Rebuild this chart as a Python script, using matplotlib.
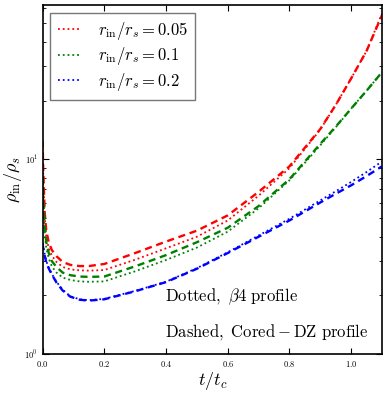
import numpy as np
import matplotlib
matplotlib.use("Agg")
import matplotlib.pyplot as plt
from matplotlib.ticker import NullFormatter

plt.rcParams['mathtext.fontset'] = 'cm'
plt.rcParams['font.family'] = 'serif'
plt.rcParams['font.serif'] = ['cmr10', 'DejaVu Serif']
plt.rcParams['axes.formatter.use_mathtext'] = True

# time grid (t / t_c)
t = [0.0, 0.002, 0.007, 0.012, 0.02, 0.03, 0.045, 0.065, 0.09, 0.12, 0.15, 0.2,
     0.3, 0.4, 0.5, 0.6, 0.7, 0.8, 0.9, 0.95, 1.0, 1.05, 1.1]

# beta4 profile (dotted)
red_dotted   = [12.0, 8.6, 5.0, 4.0, 3.5, 3.2, 2.97, 2.8, 2.72, 2.69, 2.68, 2.70,
                3.05, 3.49, 4.0, 4.85, 6.5, 9.0, 14.2, 19.0, 26.0, 36.0, 56.0]
green_dotted = [7.5, 6.0, 4.2, 3.5, 3.1, 2.82, 2.62, 2.47, 2.40, 2.36, 2.35, 2.36,
                2.66, 3.04, 3.52, 4.25, 5.6, 7.8, 11.8, 14.6, 18.2, 22.5, 28.0]
blue_dotted  = [3.7, 3.55, 3.25, 3.0, 2.78, 2.58, 2.35, 2.14, 1.98, 1.91, 1.89, 1.92,
                2.11, 2.35, 2.76, 3.33, 4.06, 4.95, 6.15, 6.85, 7.65, 8.6, 9.75]

# Cored-DZ profile (dashed)
red_dashed   = [12.5, 9.0, 5.3, 4.3, 3.75, 3.42, 3.18, 2.97, 2.87, 2.83, 2.83, 2.90,
                3.3, 3.78, 4.3, 5.15, 6.8, 9.2, 14.3, 19.0, 26.0, 36.0, 55.0]
green_dashed = [8.0, 6.4, 4.5, 3.75, 3.3, 3.0, 2.8, 2.62, 2.54, 2.50, 2.49, 2.50,
                2.82, 3.22, 3.75, 4.45, 5.75, 7.9, 12.0, 14.7, 18.2, 22.5, 28.0]
blue_dashed  = [3.7, 3.5, 3.2, 2.95, 2.75, 2.56, 2.33, 2.12, 1.97, 1.90, 1.88, 1.91,
                2.10, 2.34, 2.74, 3.30, 4.0, 4.85, 6.0, 6.65, 7.35, 8.2, 9.2]

labels = [r'$r_{\rm in}/r_s = 0.05$', r'$r_{\rm in}/r_s = 0.1$', r'$r_{\rm in}/r_s = 0.2$']
colors = ['r', 'g', 'b']

fig = plt.figure(figsize=(3.87, 3.93), dpi=100)
ax = fig.add_axes([0.110, 0.0992, 0.877, 0.888])

for yd, yD, c, lab in zip([red_dotted, green_dotted, blue_dotted],
                          [red_dashed, green_dashed, blue_dashed], colors, labels):
    ax.plot(t, yd, color=c, linestyle=':', lw=1.3, label=lab)
    ax.plot(t, yD, color=c, linestyle='--', lw=1.7, dashes=(3, 2))

ax.set_yscale('log')
ax.set_xlim(0, 1.1)
ax.set_ylim(1, 62)
ax.yaxis.set_minor_formatter(NullFormatter())
ax.set_xticks([0.0, 0.2, 0.4, 0.6, 0.8, 1.0])
ax.tick_params(which='both', direction='in', top=True, right=True, labelsize=6)
ax.tick_params(which='major', length=4, width=0.8)
ax.tick_params(which='minor', length=2.5, width=0.6)
for s in ax.spines.values():
    s.set_linewidth(1.2)

ax.set_xlabel(r'$t/t_c$', fontsize=13, labelpad=1)
ax.set_ylabel(r'$\rho_{\rm in}/\rho_s$', fontsize=13, labelpad=0)

ax.text(0.396, 1.96, r'$\rm Dotted,\ \beta 4\ profile$', fontsize=12, va='center', ha='left')
ax.text(0.396, 1.30, r'$\rm Dashed,\ Cored-DZ\ profile$', fontsize=12, va='center', ha='left')

leg = ax.legend(loc='upper left', fontsize=12, fancybox=False, handlelength=1.4,
                handletextpad=1.0, borderpad=0.45, labelspacing=0.2, borderaxespad=0.45)
leg.get_frame().set_edgecolor('#555555')
leg.get_frame().set_linewidth(1.0)

fig.savefig('out.png', dpi=100)
